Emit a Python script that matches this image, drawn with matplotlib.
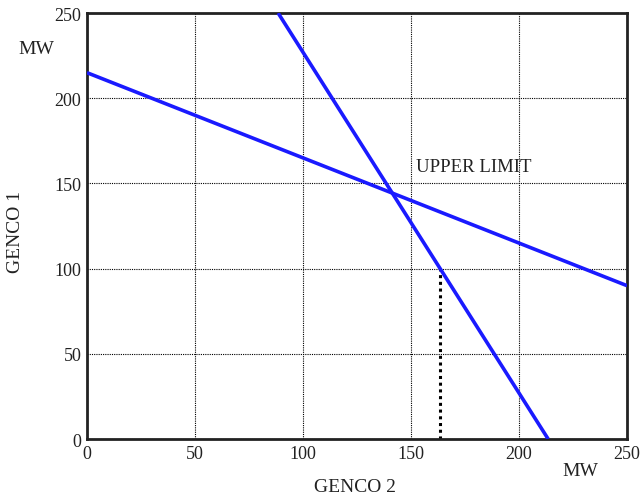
import numpy as np
import matplotlib
matplotlib.use("Agg")
import matplotlib.pyplot as plt

# two GENCO output lines (GENCO 2 MW, GENCO 1 MW)
line_a_x = [0, 250]
line_a_y = [215, 90]
line_b_x = [88.5, 213.5]
line_b_y = [250, 0]

# upper limit drop point on line b
limit_x = 163.5
limit_y = 100

ticks = [0, 50, 100, 150, 200, 250]

plt.rcParams['font.family'] = ['Liberation Serif', 'DejaVu Serif']
ink = '#222222'

fig = plt.figure(figsize=(6.43, 5.02), dpi=100)
ax = fig.add_axes([0.1353, 0.1235, 0.8398, 0.8485])

ax.plot(line_a_x, line_a_y, color='#1a1aff', lw=2.6, solid_capstyle='butt', zorder=3)
ax.plot(line_b_x, line_b_y, color='#1a1aff', lw=2.6, solid_capstyle='butt', zorder=3)
ax.plot([limit_x, limit_x], [0, limit_y], color='black', lw=2.2,
        linestyle=(0, (1, 1.2)), zorder=2)

ax.set_xlim(0, 250)
ax.set_ylim(0, 250)
ax.set_xticks(ticks)
ax.set_yticks(ticks)
ax.tick_params(length=0, labelsize=13, colors=ink, pad=4)
ax.grid(True, color='black', lw=0.8, linestyle=(0, (1, 1)))
for s in ax.spines.values():
    s.set_linewidth(2)
    s.set_color(ink)

ax.text(0.609, 0.64, 'UPPER LIMIT', transform=ax.transAxes, fontsize=13.5,
        color=ink, ha='left', va='center')

fig.text(36 / 643, 1 - 50 / 502, 'MW', fontsize=14, color=ink, ha='center', va='center')
fig.text(580 / 643, 1 - 472 / 502, 'MW', fontsize=14, color=ink, ha='center', va='center')
fig.text(355 / 643, 1 - 488 / 502, 'GENCO 2', fontsize=14, color=ink, ha='center', va='center')
fig.text(15 / 643, 1 - 232 / 502, 'GENCO 1', fontsize=14, color=ink, ha='center',
         va='center', rotation=90)

fig.savefig('out.png', dpi=100)
